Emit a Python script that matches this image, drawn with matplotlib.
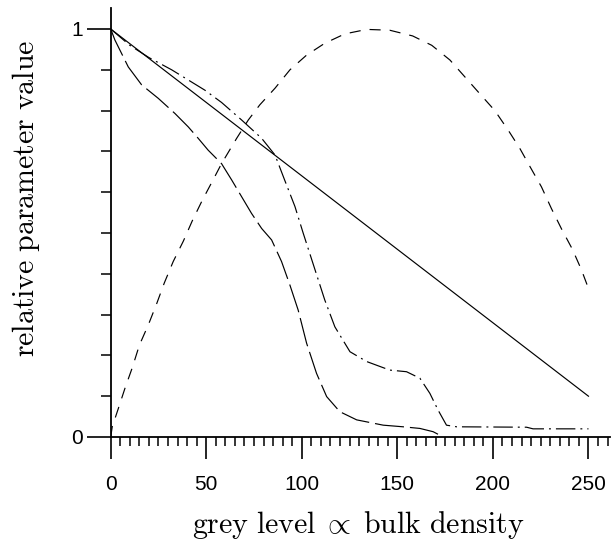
import matplotlib
matplotlib.use("Agg")
import matplotlib.pyplot as plt
from matplotlib.ticker import MultipleLocator

plt.rcParams['mathtext.fontset'] = 'cm'
plt.rcParams['lines.scale_dashes'] = False

# --- data ---
solid_x = [0, 50, 100, 150, 200, 250]
solid_y = [1.0, 0.82, 0.64, 0.46, 0.28, 0.10]

hump_x = [0, 0.8, 4, 7.5, 11.3, 15, 19.7, 24, 28, 32.7, 38, 42.7, 47.9, 53.1, 58,
          65.9, 72, 78, 86, 93.8, 102.5, 112, 122.5, 134, 146, 158, 168, 177.5,
          193, 201, 208, 214, 219.6, 225.4, 230.6, 235.9, 241.6, 246.3, 250]
hump_y = [0, 0.025, 0.07, 0.12, 0.17, 0.225, 0.275, 0.326, 0.377, 0.43, 0.48, 0.53,
          0.58, 0.626, 0.67, 0.732, 0.777, 0.814, 0.855, 0.9, 0.936, 0.965, 0.988,
          0.999, 0.997, 0.983, 0.96, 0.924, 0.842, 0.80, 0.752, 0.708, 0.661,
          0.613, 0.56, 0.51, 0.46, 0.41, 0.364]

dashdot_x = [0, 10, 20, 31.9, 49.3, 58, 68.5, 79, 86, 91, 96.4, 100.7, 106.9, 112,
             117.3, 125.2, 133.9, 146, 154.8, 161.8, 167, 171.3, 175.7, 181, 217.6,
             221, 250]
dashdot_y = [1.0, 0.96, 0.93, 0.90, 0.85, 0.82, 0.777, 0.732, 0.691, 0.63, 0.565,
             0.50, 0.41, 0.336, 0.27, 0.209, 0.185, 0.164, 0.16, 0.144, 0.107,
             0.066, 0.029, 0.025, 0.024, 0.02, 0.02]

longdash_x = [0, 2.2, 9.2, 16.2, 24.9, 33.6, 40.6, 45.8, 51, 58, 63.3, 68.5, 73.7,
              79, 84.2, 89.4, 93.8, 98.1, 102.5, 107.7, 113, 119.9, 128.7, 142.6,
              153, 161.8, 168.7, 174]
longdash_y = [1.0, 0.973, 0.907, 0.863, 0.83, 0.793, 0.76, 0.732, 0.703, 0.67, 0.63,
              0.589, 0.548, 0.511, 0.483, 0.43, 0.372, 0.311, 0.23, 0.156, 0.099,
              0.062, 0.042, 0.029, 0.025, 0.021, 0.013, 0.0]

xticks = [0, 50, 100, 150, 200, 250]
yticks = [0, 1]

fig = plt.figure(figsize=(6.14, 5.45), dpi=100)
W, H = 614, 545
x0, x1 = 110.7, 609.5
yb, yt = 437, 8
ax = fig.add_axes([x0 / W, (H - yb) / H, (x1 - x0) / W, (yb - yt) / H])

lw = 0.85
ax.plot(solid_x, solid_y, color='black', lw=lw, linestyle='-')
ax.plot(hump_x, hump_y, color='black', lw=lw, linestyle=(0, (8, 6.5)))
ax.plot(dashdot_x, dashdot_y, color='black', lw=lw, linestyle=(0, (14, 3.6, 1.4, 3.6)))
ax.plot(longdash_x, longdash_y, color='black', lw=lw, linestyle=(0, (21, 4.3)))

ax.set_xlim(0, 261)
ax.set_ylim(0, (yb - yt) / 408.0)

for s in ['top', 'right']:
    ax.spines[s].set_visible(False)
for s in ['left', 'bottom']:
    ax.spines[s].set_linewidth(1.3)

ax.set_xticks(xticks)
ax.set_yticks(yticks)
ax.xaxis.set_minor_locator(MultipleLocator(5))
ax.yaxis.set_minor_locator(MultipleLocator(0.1))
ax.tick_params(axis='x', which='major', direction='out', length=16, width=1.2,
               pad=11, labelsize=15)
ax.tick_params(axis='x', which='minor', direction='out', length=6.8, width=1.1)
ax.tick_params(axis='y', which='major', direction='out', length=17, width=1.2,
               pad=3, labelsize=15)
ax.tick_params(axis='y', which='minor', direction='out', length=7, width=1.1)
for lab in ax.get_xticklabels() + ax.get_yticklabels():
    lab.set_fontfamily('Liberation Sans')

ax.set_xlabel(r'$\mathrm{grey\ level}\;\propto\;\mathrm{bulk\ density}$', fontsize=21.5)
ax.set_ylabel(r'$\mathrm{relative\ parameter\ value}$', fontsize=21.5)
ax.xaxis.set_label_coords(0.496, -0.168)
ax.yaxis.set_label_coords(-0.138, 0.557)

fig.savefig('out.png', dpi=100)
